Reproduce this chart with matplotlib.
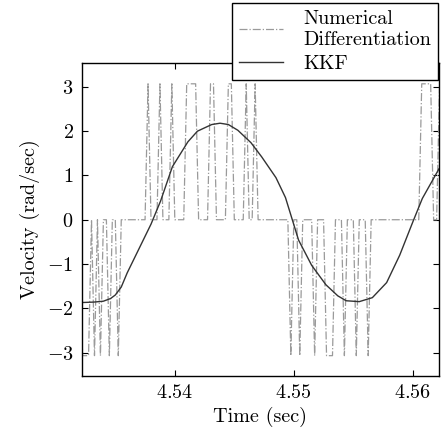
import numpy as np
import matplotlib
matplotlib.use("Agg")
import matplotlib.pyplot as plt

plt.rcParams['font.family'] = ['cmr10', 'DejaVu Serif']
plt.rcParams['mathtext.fontset'] = 'cm'
plt.rcParams['axes.formatter.use_mathtext'] = True
plt.rcParams['font.size'] = 14.5

# numerical differentiation: encoder counts per sample
t_start = 4.5320
dt = 0.00025
count_step = 3.07  # rad/sec for one count
counts = [
    0, -1, -1, -1, 0, -1, 0, -1, 0, 0, -1, 0, 0, -1, 0, 0, 0, 0, 0, 0,
    0, 0, 0, 1, 0, 0, 0, 1, 0, 0, 0, 1, 0, 0, 0, 0, 1, 1, 1, 1,
    0, 0, 0, 0, 1, 1, 0, 0, 0, 0, 1, 1, 0, 0, 0, 0, 1, 0, 0, 1,
    0, 0, 0, 0, 0, 0, 0, 0, 0, 0, 0, -1, 0, 0, -1, 0, 0, 0, 0, -1,
    0, 0, 0, -1, -1, -1, 0, 0, 0, -1, 0, 0, 0, -1, 0, 0, 0, -1, 0, 0,
    0, 0, 0, 0, 0, 0, 0, 0, 0, 0, 0, 0, 0, 0, 0, 1, 1, 1, 1, 0, 0, 1,
]

# KKF velocity estimate
kkf_t = [4.5322, 4.5332, 4.5340, 4.5346, 4.5350, 4.5355, 4.5360, 4.5370,
         4.5380, 4.5388, 4.5398, 4.5411, 4.5419, 4.5431, 4.5438, 4.5445,
         4.5453, 4.5464, 4.5473, 4.5485, 4.5493, 4.5504, 4.5515, 4.5527,
         4.5537, 4.5544, 4.5555, 4.5566, 4.5578, 4.5589, 4.5600, 4.5608,
         4.5622]
kkf_v = [-1.87, -1.86, -1.84, -1.78, -1.70, -1.52, -1.20, -0.65,
         -0.10, 0.42, 1.20, 1.76, 2.00, 2.15, 2.18, 2.15,
         2.02, 1.74, 1.42, 0.95, 0.50, -0.46, -1.03, -1.47,
         -1.72, -1.83, -1.85, -1.76, -1.42, -0.80, -0.05, 0.48,
         1.15]

num_t = t_start + dt * np.arange(len(counts))
num_v = count_step * np.array(counts)

fig = plt.figure(figsize=(4.42, 4.33), dpi=100)
ax = fig.add_axes([0.1855, 0.1316, 0.8077, 0.7229])

ax.plot(num_t, num_v, color='#9a9a9a', linestyle='-.', linewidth=0.9,
        label='Numerical\nDifferentiation')
ax.plot(kkf_t, kkf_v, color='#333333', linewidth=1.0, label='KKF')

ax.set_xlim(4.5322, 4.5622)
ax.set_ylim(-3.53, 3.54)
ax.set_xticks([4.54, 4.55, 4.56])
ax.set_yticks([-3, -2, -1, 0, 1, 2, 3])
ax.tick_params(direction='in', top=True, right=True, length=4, width=0.8,
               pad=6)
for s in ax.spines.values():
    s.set_linewidth(1.0)

ax.set_xlabel('Time (sec)', labelpad=3)
ax.set_ylabel('Velocity (rad/sec)', labelpad=5)

leg = fig.legend(loc='upper left', bbox_to_anchor=(0.525, 0.993),
                 borderaxespad=0, fancybox=False, edgecolor='black',
                 framealpha=1, handlelength=2.2, handletextpad=1.0,
                 borderpad=0.35, labelspacing=0.3)
leg.get_frame().set_linewidth(1.0)

fig.savefig('out.png', dpi=100)
